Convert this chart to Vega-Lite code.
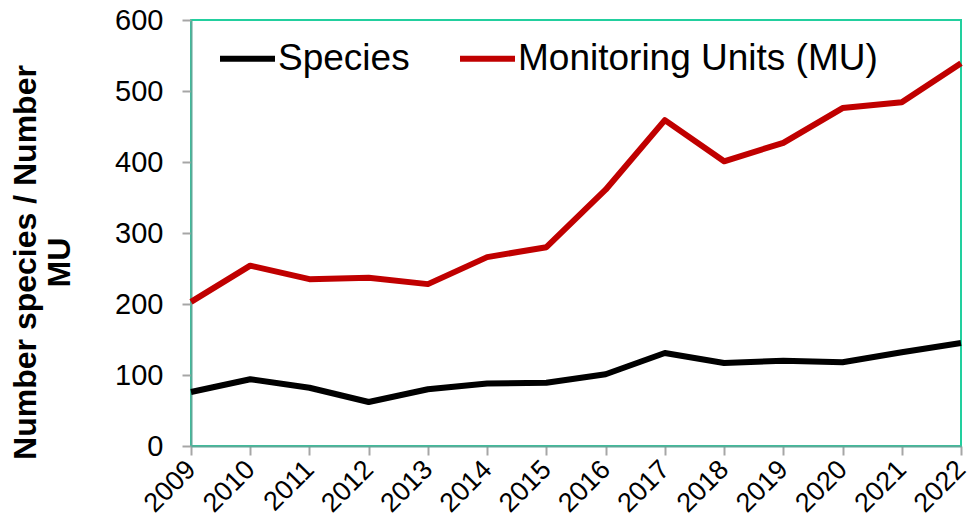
{
  "$schema": "https://vega.github.io/schema/vega-lite/v6.json",
  "width": 770,
  "height": 426,
  "autosize": {"type": "none"},
  "padding": {"left": 191, "top": 20, "right": 10, "bottom": 74},
  "background": "white",
  "config": {
    "font": "Liberation Sans",
    "view": {"stroke": "#22cf9e", "strokeWidth": 2}
  },
  "data": {
    "values": [
      {"year": 2009, "series": "Species", "value": 76},
      {"year": 2010, "series": "Species", "value": 94},
      {"year": 2011, "series": "Species", "value": 82},
      {"year": 2012, "series": "Species", "value": 62},
      {"year": 2013, "series": "Species", "value": 80},
      {"year": 2014, "series": "Species", "value": 88},
      {"year": 2015, "series": "Species", "value": 89},
      {"year": 2016, "series": "Species", "value": 101},
      {"year": 2017, "series": "Species", "value": 131},
      {"year": 2018, "series": "Species", "value": 117},
      {"year": 2019, "series": "Species", "value": 120},
      {"year": 2020, "series": "Species", "value": 118},
      {"year": 2021, "series": "Species", "value": 132},
      {"year": 2022, "series": "Species", "value": 145},
      {"year": 2009, "series": "Monitoring Units (MU)", "value": 203},
      {"year": 2010, "series": "Monitoring Units (MU)", "value": 254},
      {"year": 2011, "series": "Monitoring Units (MU)", "value": 235},
      {"year": 2012, "series": "Monitoring Units (MU)", "value": 237},
      {"year": 2013, "series": "Monitoring Units (MU)", "value": 228},
      {"year": 2014, "series": "Monitoring Units (MU)", "value": 266},
      {"year": 2015, "series": "Monitoring Units (MU)", "value": 280},
      {"year": 2016, "series": "Monitoring Units (MU)", "value": 361},
      {"year": 2017, "series": "Monitoring Units (MU)", "value": 459},
      {"year": 2018, "series": "Monitoring Units (MU)", "value": 401},
      {"year": 2019, "series": "Monitoring Units (MU)", "value": 427},
      {"year": 2020, "series": "Monitoring Units (MU)", "value": 476},
      {"year": 2021, "series": "Monitoring Units (MU)", "value": 484},
      {"year": 2022, "series": "Monitoring Units (MU)", "value": 539}
    ]
  },
  "mark": {"type": "line", "strokeWidth": 6, "strokeJoin": "round", "clip": false},
  "encoding": {
    "x": {
      "field": "year",
      "type": "quantitative",
      "scale": {"domain": [2009, 2022], "nice": false, "zero": false},
      "axis": {
        "values": [2009, 2010, 2011, 2012, 2013, 2014, 2015, 2016, 2017, 2018, 2019, 2020, 2021, 2022],
        "format": "d",
        "title": null,
        "grid": false,
        "labelAngle": -45,
        "labelAlign": "right",
        "labelBaseline": "middle",
        "labelFontSize": 27,
        "labelColor": "#000000",
        "labelPadding": 10,
        "labelOverlap": false,
        "labelFlush": false,
        "domainColor": "#5fa898",
        "domainWidth": 2,
        "tickColor": "#a6a6a6",
        "tickWidth": 2,
        "tickSize": 9
      }
    },
    "y": {
      "field": "value",
      "type": "quantitative",
      "scale": {"domain": [0, 600], "nice": false},
      "axis": {
        "values": [0, 100, 200, 300, 400, 500, 600],
        "title": ["Number species / Number", "MU"],
        "titleFontSize": 32,
        "titleFontWeight": "bold",
        "titleColor": "#000000",
        "titleAngle": -90,
        "titleAlign": "center",
        "titleBaseline": "alphabetic",
        "titleLineHeight": 34,
        "titleX": -156,
        "titleY": 242,
        "grid": false,
        "labelFontSize": 29,
        "labelColor": "#000000",
        "labelPadding": 19,
        "domainColor": "#5fa898",
        "domainWidth": 2,
        "tickColor": "#a6a6a6",
        "tickWidth": 2,
        "tickSize": 9
      }
    },
    "color": {
      "field": "series",
      "type": "nominal",
      "sort": ["Species", "Monitoring Units (MU)"],
      "scale": {"domain": ["Species", "Monitoring Units (MU)"], "range": ["#000000", "#c00000"]},
      "legend": {
        "title": null,
        "orient": "none",
        "direction": "horizontal",
        "legendX": 26,
        "legendY": 8,
        "padding": 0,
        "symbolType": "stroke",
        "symbolSize": 3025,
        "symbolStrokeWidth": 6,
        "labelFontSize": 37,
        "labelColor": "#000000",
        "labelOffset": 0,
        "columnPadding": 38,
        "labelLimit": 600
      }
    }
  }
}
